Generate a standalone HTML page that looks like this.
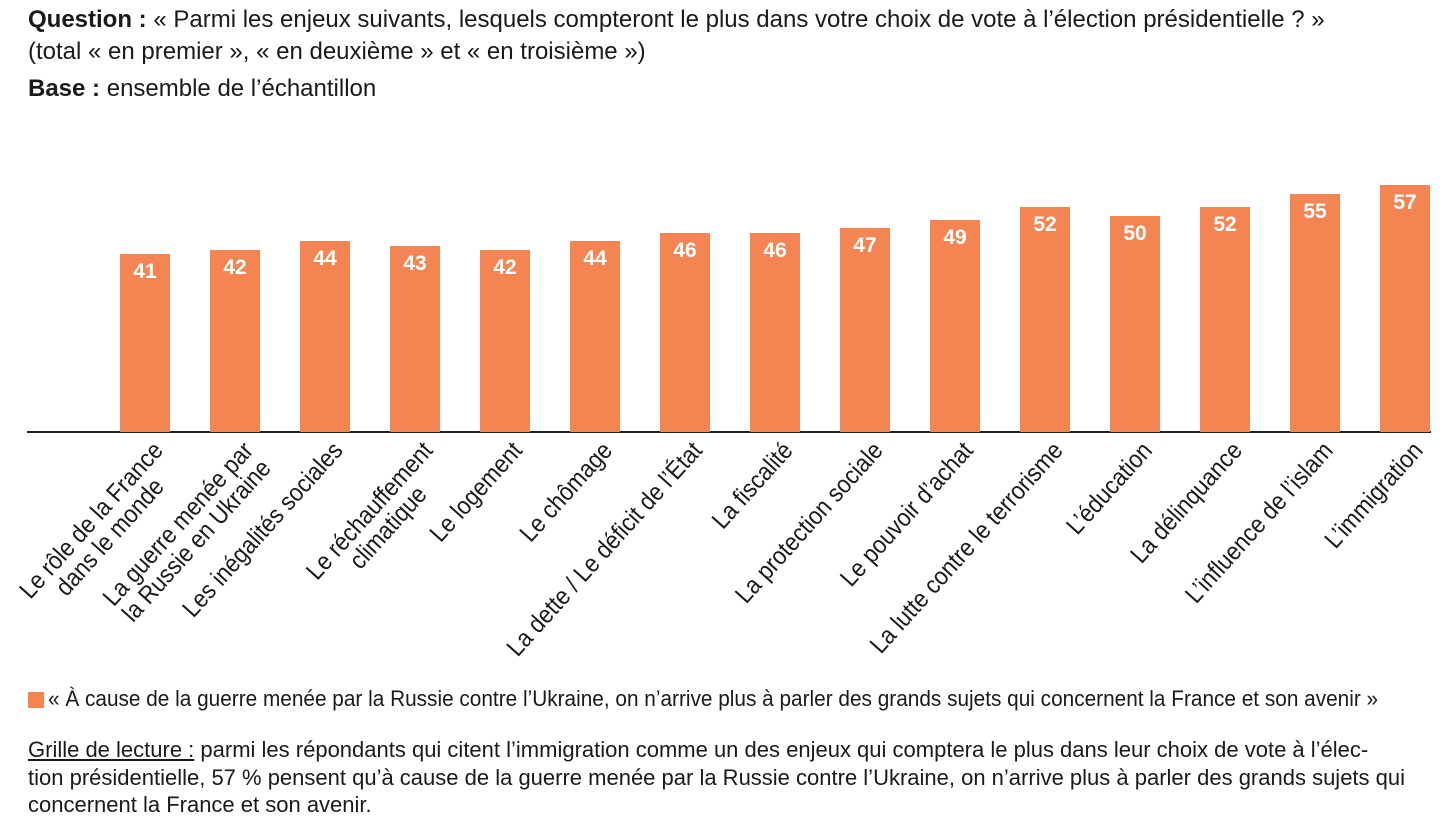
<!DOCTYPE html>
<html><head><meta charset="utf-8"><style>
body{margin:0;width:1451px;height:830px;background:#fff;position:relative;overflow:hidden;font-family:"Liberation Sans Narrow","Liberation Sans",sans-serif;color:#1a1a1a}
.t{position:absolute;left:28px;font-size:24px;white-space:nowrap}
.bar{position:absolute;width:50px;background:#f58453;color:#fff;font-weight:bold;font-size:21px;text-align:center;padding-top:6px;box-sizing:border-box}
.lab{position:absolute;font-size:25px;line-height:25px;text-align:center;white-space:nowrap;transform-origin:100% 0;transform:rotate(-48deg) scaleX(0.9)}
</style></head><body>
<div class="t" style="top:6px"><b>Question :</b> « Parmi les enjeux suivants, lesquels compteront le plus dans votre choix de vote à l’élection présidentielle ? »</div>
<div class="t" style="top:38px">(total « en premier », « en deuxième » et « en troisième »)</div>
<div class="t" style="top:75px"><b>Base :</b> ensemble de l’échantillon</div>
<div style="position:absolute;left:27px;top:431px;width:1404px;height:2px;background:#222"></div>
<div id="c"></div>
<div style="position:absolute;left:28px;top:692px;width:16px;height:16px;background:#f58453"></div>
<div class="t" style="top:686px;left:48px;font-size:22px;transform:scaleX(0.945);transform-origin:0 0">« À cause de la guerre menée par la Russie contre l’Ukraine, on n’arrive plus à parler des grands sujets qui concernent la France et son avenir »</div>
<div class="t" style="top:736px;font-size:22px;line-height:27.5px;white-space:normal;width:1400px"><u>Grille de lecture :</u> parmi les répondants qui citent l’immigration comme un des enjeux qui comptera le plus dans leur choix de vote à l’élec-<br>tion présidentielle, 57 % pensent qu’à cause de la guerre menée par la Russie contre l’Ukraine, on n’arrive plus à parler des grands sujets qui<br>concernent la France et son avenir.</div>
<script>
var d=[[41,"Le rôle de la France<br>dans le monde"],[42,"La guerre menée par<br>la Russie en Ukraine"],[44,"Les inégalités sociales"],[43,"Le réchauffement<br>climatique"],[42,"Le logement"],[44,"Le chômage"],[46,"La dette / Le déficit de l’État"],[46,"La fiscalité"],[47,"La protection sociale"],[49,"Le pouvoir d’achat"],[52,"La lutte contre le terrorisme"],[50,"L’éducation"],[52,"La délinquance"],[55,"L’influence de l’islam"],[57,"L’immigration"]];
var h="";
d.forEach(function(e,i){var cx=145+90*i,ht=e[0]*4.33;
h+='<div class="bar" style="left:'+(cx-25)+'px;top:'+(432-ht)+'px;height:'+ht+'px">'+e[0]+'</div>';
h+='<div class="lab" style="right:'+(1451-cx-4)+'px;top:438px">'+e[1]+'</div>';});
document.getElementById("c").innerHTML=h;
</script>
</body></html>
